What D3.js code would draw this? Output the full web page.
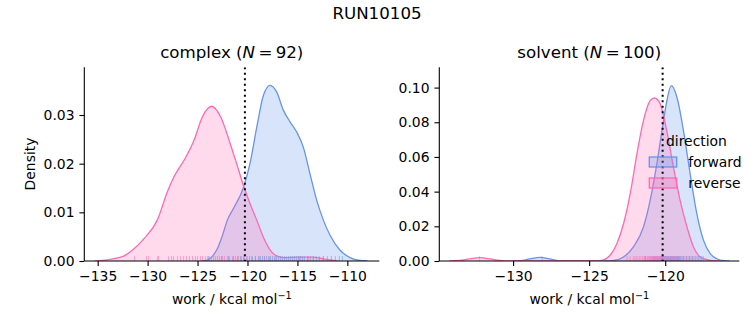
<!DOCTYPE html>
<html><head><meta charset="utf-8">
<script src="https://cdn.jsdelivr.net/npm/d3@7"></script>
<style>
body{margin:0;background:#fff;}
text{font-family:"DejaVu Sans",sans-serif;fill:#000;}
</style></head>
<body><svg id="c" width="753" height="325"></svg>
<script>
// ---- data ----
const suptitle = "RUN10105";
const directions = ["forward", "reverse"];
const colors = ["#6495ED", "#FF69B4"];
const panelNames = ["complex", "solvent"];
const panelN = [92, 100];
const complexTicksX = [-135, -130, -125, -120, -115, -110];
const complexTicksY = [0, 0.01, 0.02, 0.03];
const solventTicksX = [-130, -125, -120];
const solventTicksY = [0, 0.02, 0.04, 0.06, 0.08, 0.10];
const complexEstimate = -120.26;
const solventEstimate = -120.17;

// density curves: [work, density]
const complexForwardKde = [[-124.6,0],[-124.0,0.0002],[-123.5,0.0010],[-123.02,0.0025],[-122.5,0.0053],[-122.02,0.0084],[-121.35,0.0110],[-120.42,0.0150],[-119.75,0.0200],[-119.07,0.0275],[-118.41,0.0340],[-117.74,0.0361],[-117.07,0.0347],[-116.41,0.0310],[-115.74,0.0286],[-115.07,0.0265],[-114.41,0.0234],[-113.74,0.0179],[-113.07,0.0125],[-112.4,0.0084],[-111.73,0.0053],[-110.73,0.0022],[-109.73,0.0007],[-108.73,0.0001],[-108.0,0]];
const complexReverseKde = [[-135.3,0],[-134.5,0.0001],[-133.37,0.0005],[-132.4,0.0010],[-131.36,0.0025],[-130.36,0.0046],[-129.03,0.0084],[-128.03,0.0142],[-127.36,0.0173],[-126.35,0.0207],[-125.35,0.0248],[-124.52,0.0296],[-123.58,0.0318],[-122.68,0.0296],[-121.68,0.0238],[-121.08,0.0200],[-120.42,0.0156],[-119.75,0.0118],[-119.07,0.0084],[-118.41,0.0049],[-117.41,0.0015],[-116.41,0.0007],[-115.0,0.0008],[-113.5,0.0008],[-112.3,0.0004],[-111.0,0]];
const solventForwardKde = [[-130.0,0],[-129.5,0.0002],[-128.9,0.0012],[-128.23,0.0021],[-127.6,0.0012],[-127.0,0.0002],[-126.4,0],[-124.0,0],[-123.4,0.0003],[-122.74,0.0023],[-122.09,0.0081],[-121.43,0.0196],[-120.99,0.0349],[-120.55,0.0560],[-120.11,0.0810],[-119.9,0.0920],[-119.6,0.1011],[-119.23,0.0944],[-118.8,0.0752],[-118.36,0.0503],[-117.92,0.0272],[-117.48,0.0119],[-117.04,0.0042],[-116.6,0.0013],[-116.16,0.0002],[-115.8,0]];
const solventReverseKde = [[-134.2,0],[-133.5,0.0003],[-132.9,0.0012],[-132.2,0.0019],[-131.5,0.0012],[-130.9,0.0003],[-130.2,0],[-124.8,0],[-124.4,0.0001],[-124.0,0.0008],[-123.62,0.0033],[-123.18,0.0100],[-122.74,0.0215],[-122.3,0.0388],[-121.86,0.0618],[-121.43,0.0810],[-120.99,0.0925],[-120.7,0.0940],[-120.33,0.0906],[-119.9,0.0752],[-119.46,0.0541],[-119.02,0.0349],[-118.57,0.0196],[-118.14,0.0081],[-117.7,0.0023],[-117.26,0.0008],[-116.8,0.0001],[-116.4,0]];

// individual work samples (rug)
const complexForwardWork = [-123.9,-122.6,-121.9,-121.4,-121.0,-120.7,-120.4,-120.1,-119.8,-119.5,-119.2,-118.9,-118.7,-118.5,-118.3,-118.1,-117.9,-117.7,-117.5,-117.3,-117.1,-116.9,-116.7,-116.5,-116.3,-116.1,-115.9,-115.7,-115.5,-115.3,-115.1,-114.9,-114.7,-114.5,-114.3,-114.0,-113.7,-113.4,-113.1,-112.8,-112.4,-112.0,-111.6,-111.2,-110.8,-110.5];
const complexReverseWork = [-131.3,-130.1,-129.9,-129.0,-128.9,-127.9,-127.6,-127.4,-127.0,-126.7,-126.4,-126.1,-125.8,-125.5,-125.2,-125.0,-124.7,-124.5,-124.2,-124.0,-123.8,-123.6,-123.4,-123.2,-123.0,-122.8,-122.5,-122.3,-122.0,-121.8,-121.5,-121.2,-120.9,-120.6,-120.3,-120.0,-119.6,-119.2,-118.8,-118.3,-117.8,-117.2,-114.8,-113.9,-113.4,-112.4];
const solventForwardWork = [-128.1,-121.3,-121.0,-120.8,-120.7,-120.6,-120.5,-120.4,-120.3,-120.25,-120.2,-120.15,-120.1,-120.05,-120.0,-119.95,-119.9,-119.85,-119.8,-119.75,-119.7,-119.65,-119.6,-119.55,-119.5,-119.45,-119.4,-119.35,-119.3,-119.25,-119.2,-119.15,-119.1,-119.05,-119.0,-118.9,-118.8,-118.7,-118.6,-118.5,-118.4,-118.3,-118.2,-118.1,-118.0,-117.9,-117.8,-117.7,-117.6,-117.5];
const solventReverseWork = [-132.2,-122.5,-122.3,-122.1,-122.0,-121.9,-121.8,-121.7,-121.6,-121.5,-121.4,-121.35,-121.3,-121.2,-121.15,-121.1,-121.0,-120.95,-120.9,-120.85,-120.8,-120.75,-120.7,-120.65,-120.6,-120.55,-120.5,-120.45,-120.4,-120.35,-120.3,-120.25,-120.2,-120.15,-120.1,-120.0,-119.9,-119.8,-119.7,-119.6,-119.5,-119.4,-119.3,-119.2,-119.1,-118.9,-118.8,-118.6,-118.4,-118.2];

// ---- layout ----
const svg = d3.select("#c");
const fs = 13.9, tfs = 16.67;
const yTop = 67.3, yBottom = 261;

svg.append("text").attr("x", 377).attr("y", 19).attr("text-anchor","middle")
  .style("font-size", tfs+"px").text(suptitle);

const panels = [
  {left:84.3, right:379.3, dom:[-136.34,-106.8], ymax:0.0398, tx:complexTicksX, ty:complexTicksY, yfmt:".2f",
   kde:[complexForwardKde, complexReverseKde], rug:[complexForwardWork, complexReverseWork], est:complexEstimate, ylabel:true},
  {left:439.3, right:739.3, dom:[-134.85,-115.13], ymax:0.1117, tx:solventTicksX, ty:solventTicksY, yfmt:".2f",
   kde:[solventForwardKde, solventReverseKde], rug:[solventForwardWork, solventReverseWork], est:solventEstimate, ylabel:false, legend:true}
];

panels.forEach((p, i) => {
  const x = d3.scaleLinear().domain(p.dom).range([p.left, p.right]);
  const y = d3.scaleLinear().domain([0, p.ymax]).range([yBottom, yTop]);
  const g = svg.append("g");
  const clipId = "clip"+i;
  svg.append("clipPath").attr("id", clipId).append("rect")
    .attr("x", p.left).attr("y", yTop).attr("width", p.right-p.left).attr("height", yBottom-yTop);
  const plot = g.append("g").attr("clip-path", `url(#${clipId})`);

  const area = d3.area().x(d=>x(d[0])).y0(yBottom).y1(d=>y(d[1])).curve(d3.curveMonotoneX);
  const line = d3.line().x(d=>x(d[0])).y(d=>y(d[1])).curve(d3.curveMonotoneX);

  p.kde.forEach((k, j) => {
    plot.append("path").attr("d", area(k)).attr("fill", colors[j]).attr("fill-opacity", 0.25).attr("stroke","none");
    plot.append("path").attr("d", line(k)).attr("fill","none").attr("stroke", colors[j]).attr("stroke-width", 1.3);
  });
  p.rug.forEach((r, j) => {
    plot.selectAll(null).data(r).enter().append("line")
      .attr("x1", d=>x(d)).attr("x2", d=>x(d)).attr("y1", yBottom).attr("y2", yBottom-4.9)
      .attr("stroke", colors[j]).attr("stroke-width", 1).attr("stroke-opacity", 0.55);
  });
  plot.append("line").attr("x1", x(p.est)).attr("x2", x(p.est)).attr("y1", yTop).attr("y2", yBottom)
    .attr("stroke","#000").attr("stroke-width", 2).attr("stroke-dasharray","2,3.5");

  const xa = g.append("g").attr("transform", `translate(0,${yBottom})`)
    .call(d3.axisBottom(x).tickValues(p.tx).tickSize(4.9).tickPadding(4.9).tickFormat(d=>d3.format("d")(d).replace("-","\u2212")));
  const ya = g.append("g").attr("transform", `translate(${p.left},0)`)
    .call(d3.axisLeft(y).tickValues(p.ty).tickSize(4.9).tickPadding(4.9).tickFormat(d3.format(p.yfmt)));
  xa.select(".domain").attr("d", `M${p.left},0H${p.right}`);
  ya.select(".domain").attr("d", `M0,${yTop}V${yBottom}`);
  [xa, ya].forEach(a => {
    a.select(".domain").attr("stroke","#000").attr("stroke-width",1.1);
    a.selectAll(".tick line").attr("stroke","#000").attr("stroke-width",1.1);
    a.selectAll(".tick text").style("font-size", fs+"px").style("font-family","DejaVu Sans").attr("fill","#000");
  });

  const xl = g.append("text").attr("x", (p.left+p.right)/2).attr("y", 304).attr("text-anchor","middle").style("font-size", fs+"px");
  xl.append("tspan").text("work / kcal mol");
  xl.append("tspan").attr("dy", -5.5).style("font-size", (fs*0.7)+"px").text("\u22121");

  const t = g.append("text").attr("x", (p.left+p.right)/2).attr("y", 58).attr("text-anchor","middle").style("font-size", tfs+"px");
  t.append("tspan").text(panelNames[i] + " (");
  t.append("tspan").style("font-style","italic").text("N");
  t.append("tspan").text("\u2009=\u2009" + panelN[i] + ")");

  if (p.ylabel) {
    g.append("text").attr("transform", `translate(35,164) rotate(-90)`).attr("text-anchor","middle")
      .style("font-size", fs+"px").text("Density");
  }
  if (p.legend) {
    const lg = g.append("g");
    lg.append("text").attr("x", 666).attr("y", 146).style("font-size", fs+"px").text("direction");
    directions.forEach((d, j) => {
      const yy = 157 + j*21;
      lg.append("rect").attr("x", 649.3).attr("y", yy).attr("width", 27.4).attr("height", 10)
        .attr("fill", colors[j]).attr("fill-opacity", 0.25).attr("stroke", colors[j]).attr("stroke-width", 1.3);
      lg.append("text").attr("x", 688.3).attr("y", yy+9.5).style("font-size", fs+"px").text(d);
    });
  }
});
</script></body></html>
